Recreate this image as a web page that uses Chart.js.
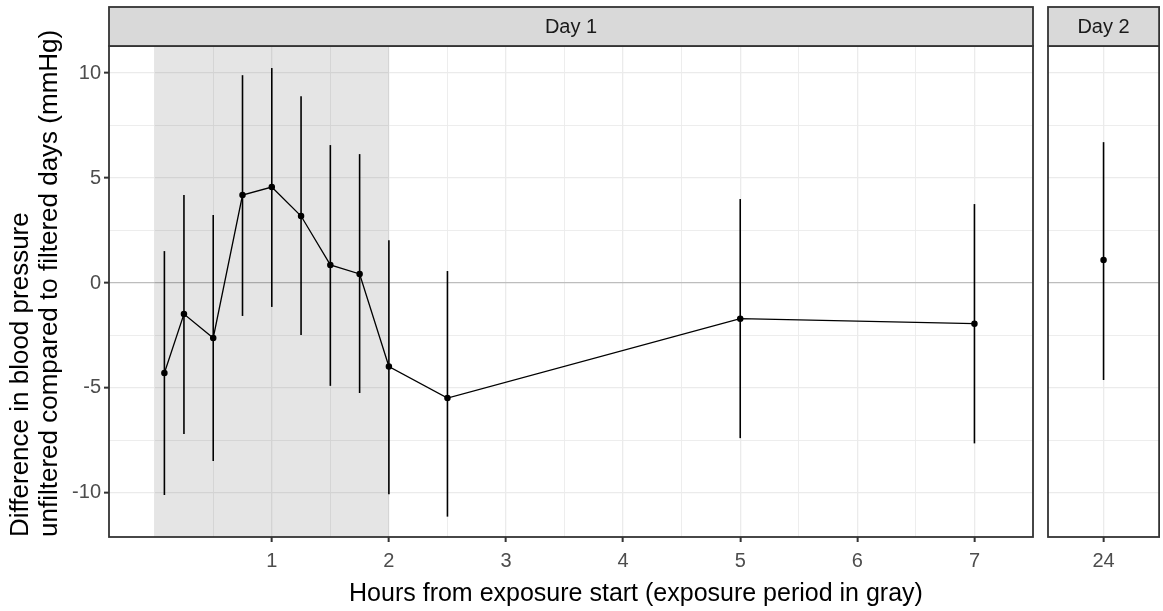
<!DOCTYPE html>
<html>
<head>
<meta charset="utf-8">
<title>Blood pressure difference by hours from exposure start</title>
<script src="https://cdn.jsdelivr.net/npm/chart.js@4.4.1/dist/chart.umd.min.js"></script>
<style>
    body { margin: 0; background: #ffffff; }
    #wrap { position: relative; width: 1163px; height: 611px; overflow: hidden; }
    canvas { position: absolute; top: 0; }
    #day1 { left: 0; }
    #day2 { left: 1040px; }
    #xtitle {
        position: absolute; left: 110px; width: 1052px; top: 577px;
        text-align: center; font: 25px/30px 'Liberation Sans', Arial, sans-serif; color: #000;
    }
</style>
</head>
<body>
<div id="wrap">
    <canvas id="day1" width="1040" height="611"></canvas>
    <canvas id="day2" width="123" height="611"></canvas>
    <div id="xtitle"></div>
</div>
<script>
// =============================================================================
// DATA
// =============================================================================

const panelLabels = ['Day 1', 'Day 2'];
const xTitle = 'Hours from exposure start (exposure period in gray)';
const yTitle = ['Difference in blood pressure', 'unfiltered compared to filtered days (mmHg)'];

const day1Hours = [0.083, 0.25, 0.5, 0.75, 1, 1.25, 1.5, 1.75, 2, 2.5, 5, 7];
const day1Diff  = [-4.29, -1.48, -2.62, 4.19, 4.57, 3.19, 0.86, 0.43, -3.98, -5.48, -1.70, -1.94];
const day1Lower = [-10.1, -7.19, -8.48, -1.57, -1.14, -2.48, -4.9, -5.24, -10.06, -11.13, -7.39, -7.64];
const day1Upper = [1.52, 4.19, 3.24, 9.9, 10.24, 8.9, 6.57, 6.14, 2.04, 0.57, 4.0, 3.76];

const day2Hours = [24];
const day2Diff  = [1.1];
const day2Lower = [-4.62];
const day2Upper = [6.71];

// exposure period (hours), drawn as the gray band
const exposurePeriod = [0, 2];

const day1XTicks = [1, 2, 3, 4, 5, 6, 7];
const day1XMinor = [0, 0.5, 1.5, 2.5, 3.5, 4.5, 5.5, 6.5, 7.5];
const day2XTicks = [24];
const yTicks = [-10, -5, 0, 5, 10];
const yMinor = [-7.5, -2.5, 2.5, 7.5];

// =============================================================================
// STYLE
// =============================================================================

const FONT = "'Liberation Sans', Arial, sans-serif";
const colors = {
    grid: '#ebebeb',
    zeroLine: '#bdbdbd',
    border: '#333333',
    strip: '#d9d9d9',
    tickText: '#4d4d4d',
    ink: '#000000',
    shade: 'rgba(0, 0, 0, 0.1)'
};

const Y_MIN = -12.1;
const Y_MAX = 11.29;

document.getElementById('xtitle').textContent = xTitle;

// =============================================================================
// PLUGINS
// =============================================================================

// gray band for the exposure period
const shadePlugin = {
    id: 'shade',
    beforeDatasetsDraw(chart, args, opts) {
        if (!opts.range) return;
        const { ctx, chartArea, scales } = chart;
        const x0 = Math.max(scales.x.getPixelForValue(opts.range[0]), chartArea.left);
        const x1 = Math.min(scales.x.getPixelForValue(opts.range[1]), chartArea.right);
        ctx.save();
        ctx.fillStyle = colors.shade;
        ctx.fillRect(x0, chartArea.top, x1 - x0, chartArea.bottom - chartArea.top);
        ctx.restore();
    }
};

// vertical error bars from dataset.errLow / dataset.errHigh
const errorBarPlugin = {
    id: 'errorBars',
    beforeDatasetsDraw(chart) {
        const { ctx, scales } = chart;
        ctx.save();
        ctx.strokeStyle = colors.ink;
        ctx.lineWidth = 1.6;
        chart.data.datasets.forEach((ds) => {
            if (!ds.errLow) return;
            ds.data.forEach((pt, i) => {
                const x = scales.x.getPixelForValue(pt.x);
                ctx.beginPath();
                ctx.moveTo(x, scales.y.getPixelForValue(ds.errLow[i]));
                ctx.lineTo(x, scales.y.getPixelForValue(ds.errHigh[i]));
                ctx.stroke();
            });
        });
        ctx.restore();
    }
};

// panel border + facet strip on top
const facetPlugin = {
    id: 'facet',
    afterDraw(chart, args, opts) {
        const { ctx, chartArea } = chart;
        const w = chartArea.right - chartArea.left;
        ctx.save();
        ctx.strokeStyle = colors.border;
        ctx.lineWidth = 1.8;
        ctx.strokeRect(chartArea.left, chartArea.top, w, chartArea.bottom - chartArea.top);

        const stripTop = 7;
        const stripH = chartArea.top - stripTop;
        ctx.fillStyle = colors.strip;
        ctx.fillRect(chartArea.left, stripTop, w, stripH);
        ctx.strokeRect(chartArea.left, stripTop, w, stripH);

        ctx.fillStyle = '#1a1a1a';
        ctx.font = '20px ' + FONT;
        ctx.textAlign = 'center';
        ctx.textBaseline = 'middle';
        ctx.fillText(opts.label, chartArea.left + w / 2, stripTop + stripH / 2 + 1);
        ctx.restore();
    }
};

// =============================================================================
// HELPERS
// =============================================================================

function toPoints(xs, ys) {
    return xs.map((x, i) => ({ x: x, y: ys[i] }));
}

function setTicks(values) {
    return (scale) => { scale.ticks = values.map((v) => ({ value: v })); };
}

function isMajor(list, v) {
    return list.indexOf(v) !== -1;
}

function lineDataset(xs, ys, lo, hi) {
    return {
        data: toPoints(xs, ys),
        errLow: lo,
        errHigh: hi,
        borderColor: colors.ink,
        backgroundColor: colors.ink,
        borderWidth: 1.3,
        pointRadius: 2.6,
        pointHoverRadius: 2.6,
        tension: 0
    };
}

function yScale(showLabels) {
    return {
        type: 'linear',
        min: Y_MIN,
        max: Y_MAX,
        afterBuildTicks: setTicks(yTicks.concat(yMinor)),
        afterFit: (s) => { s.width = showLabels ? 109 : 0; },
        border: { display: false },
        grid: {
            drawTicks: showLabels,
            tickLength: 5,
            tickWidth: 2,
            tickColor: (c) => isMajor(yTicks, c.tick.value) ? colors.border : 'rgba(0,0,0,0)',
            color: (c) => c.tick.value === 0 ? colors.zeroLine : colors.grid,
            lineWidth: (c) => isMajor(yTicks, c.tick.value) ? 1.3 : 0.9
        },
        ticks: {
            display: showLabels,
            autoSkip: false,
            padding: 3,
            color: colors.tickText,
            font: { family: FONT, size: 20 },
            callback: (v) => isMajor(yTicks, v) ? String(v) : ''
        },
        title: {
            display: showLabels,
            text: yTitle,
            align: 'start',
            color: colors.ink,
            font: { family: FONT, size: 26, lineHeight: 1.1 },
            padding: { top: 7, bottom: 0 }
        }
    };
}

function xScale(min, max, major, minor) {
    return {
        type: 'linear',
        min: min,
        max: max,
        afterBuildTicks: setTicks(major.concat(minor)),
        afterFit: (s) => { s.height = 74; },
        border: { display: false },
        grid: {
            tickLength: 5,
            tickWidth: 2,
            tickColor: (c) => isMajor(major, c.tick.value) ? colors.border : 'rgba(0,0,0,0)',
            color: colors.grid,
            lineWidth: (c) => isMajor(major, c.tick.value) ? 1.3 : 0.9
        },
        ticks: {
            autoSkip: false,
            maxRotation: 0,
            padding: 7,
            color: colors.tickText,
            font: { family: FONT, size: 20 },
            callback: (v) => isMajor(major, v) ? String(v) : ''
        }
    };
}

const baseOptions = {
    responsive: false,
    animation: false,
    events: [],
    plugins: { legend: { display: false }, tooltip: { enabled: false } }
};

// =============================================================================
// CHARTS
// =============================================================================

new Chart(document.getElementById('day1'), {
    type: 'line',
    data: { datasets: [lineDataset(day1Hours, day1Diff, day1Lower, day1Upper)] },
    options: {
        ...baseOptions,
        layout: { padding: { top: 46, right: 7, left: 0, bottom: 0 } },
        plugins: {
            ...baseOptions.plugins,
            shade: { range: exposurePeriod },
            facet: { label: panelLabels[0] }
        },
        scales: {
            x: xScale(-0.39, 7.5, day1XTicks, day1XMinor),
            y: yScale(true)
        }
    },
    plugins: [shadePlugin, errorBarPlugin, facetPlugin]
});

new Chart(document.getElementById('day2'), {
    type: 'line',
    data: { datasets: [lineDataset(day2Hours, day2Diff, day2Lower, day2Upper)] },
    options: {
        ...baseOptions,
        layout: { padding: { top: 46, right: 1, left: 8, bottom: 0 } },
        plugins: {
            ...baseOptions.plugins,
            facet: { label: panelLabels[1] }
        },
        scales: {
            x: xScale(23, 25, day2XTicks, []),
            y: yScale(false)
        }
    },
    plugins: [errorBarPlugin, facetPlugin]
});
</script>
</body>
</html>
